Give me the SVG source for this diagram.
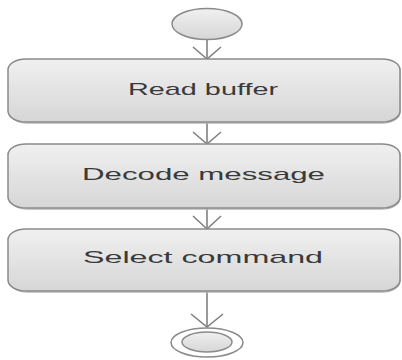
<svg xmlns="http://www.w3.org/2000/svg" width="402" height="360" viewBox="0 0 402 360">
  <defs>
    <linearGradient id="nodeFill" x1="0" y1="0" x2="0" y2="1">
      <stop offset="0" stop-color="#f0f0f0"/>
      <stop offset="1" stop-color="#d6d6d6"/>
    </linearGradient>
    <style>
      .act { fill: url(#nodeFill); stroke: #8a8a8a; stroke-width: 1.5; }
      .shadow { fill: none; stroke: #b8b8b8; stroke-width: 1.5; }
      .lbl { font-family: "Liberation Sans", Arial, sans-serif; font-size: 17px; fill: #3a3a3a; text-anchor: middle; }
      .flow { stroke: #808080; stroke-width: 1.6; fill: none; }
    </style>
  </defs>

  <!-- control flows: a line plus an open V head at the target -->
  <g id="connectors">
    <path class="flow" d="M207,39 V59"/>
    <path class="flow" d="M193,47 L207,59 L221,47"/>
    <path class="flow" d="M207,122 V144"/>
    <path class="flow" d="M193,132 L207,144 L221,132"/>
    <path class="flow" d="M207,208 V229"/>
    <path class="flow" d="M193,216 L207,229 L221,216"/>
    <path class="flow" d="M207,291 V327"/>
    <path class="flow" d="M191,314 L207,327 L223,314"/>
  </g>

  <g id="start">
    <ellipse cx="207" cy="24" rx="35" ry="15.5" class="act"/>
  </g>

  <g id="read-buffer">
    <rect x="10" y="61" width="390" height="62" rx="18" ry="11" class="shadow"/>
    <rect x="8" y="59" width="392" height="63" rx="18" ry="11" class="act"/>
    <text x="203" y="95" class="lbl" textLength="150" lengthAdjust="spacingAndGlyphs">Read buffer</text>
  </g>

  <g id="decode-message">
    <rect x="10" y="146" width="390" height="63" rx="18" ry="11" class="shadow"/>
    <rect x="8" y="144" width="392" height="64" rx="18" ry="11" class="act"/>
    <text x="203.5" y="180" class="lbl" textLength="243" lengthAdjust="spacingAndGlyphs">Decode message</text>
  </g>

  <g id="select-command">
    <rect x="10" y="231" width="390" height="61" rx="18" ry="11" class="shadow"/>
    <rect x="8" y="229" width="392" height="62" rx="18" ry="11" class="act"/>
    <text x="203" y="263" class="lbl" textLength="240" lengthAdjust="spacingAndGlyphs">Select command</text>
  </g>

  <g id="end">
    <ellipse cx="207" cy="342.5" rx="36" ry="14.5" fill="#ffffff" stroke="#8a8a8a" stroke-width="1.5"/>
    <ellipse cx="207" cy="342" rx="25" ry="10" class="act"/>
  </g>
</svg>
